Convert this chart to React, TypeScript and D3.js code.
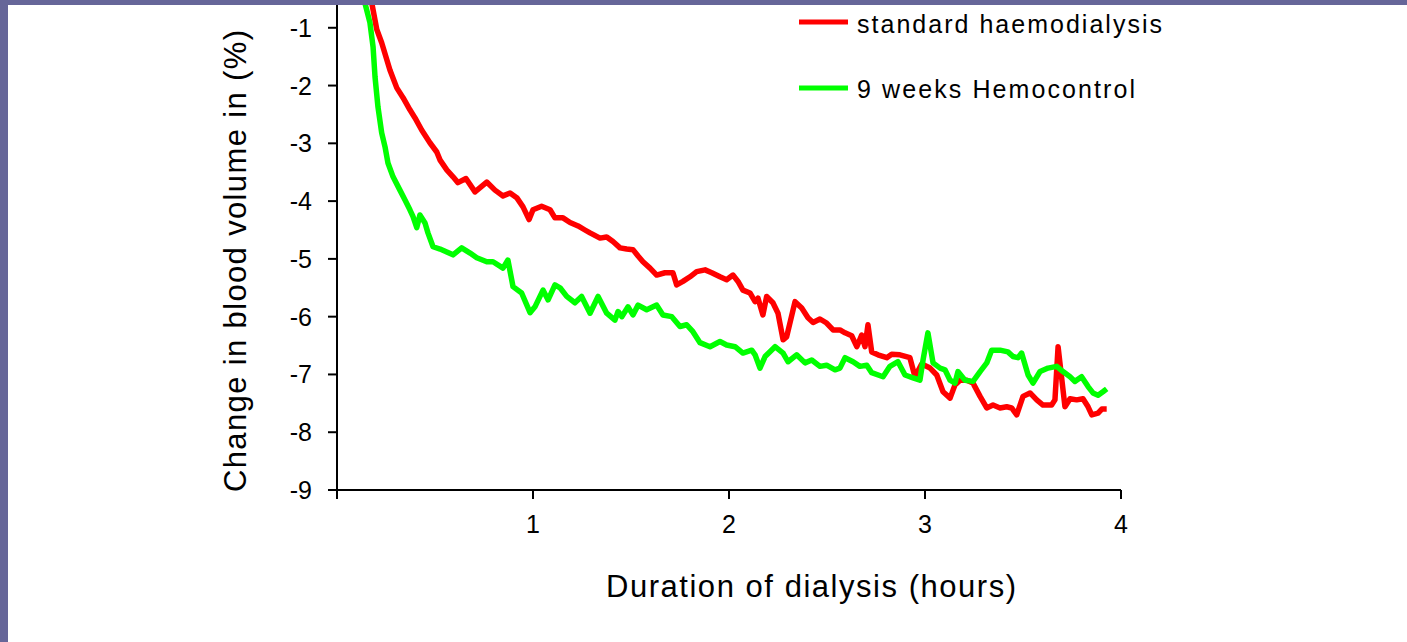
import React from "react";
import * as d3 from "d3";

// Duration of dialysis (hours)
const standardHours = [0.143, 0.179, 0.203, 0.228, 0.270, 0.305, 0.337, 0.372, 0.398, 0.432, 0.474, 0.509, 0.526, 0.560, 0.592, 0.617, 0.658, 0.704, 0.764, 0.806, 0.847, 0.883, 0.917, 0.949, 0.980, 1.000, 1.044, 1.087, 1.112, 1.153, 1.189, 1.230, 1.265, 1.291, 1.342, 1.376, 1.408, 1.444, 1.478, 1.510, 1.536, 1.561, 1.597, 1.631, 1.673, 1.714, 1.733, 1.765, 1.801, 1.835, 1.878, 1.912, 1.954, 1.988, 2.020, 2.046, 2.071, 2.107, 2.133, 2.148, 2.173, 2.192, 2.224, 2.250, 2.276, 2.294, 2.337, 2.371, 2.403, 2.429, 2.464, 2.498, 2.531, 2.566, 2.592, 2.626, 2.652, 2.677, 2.694, 2.709, 2.728, 2.760, 2.805, 2.830, 2.872, 2.923, 2.949, 2.983, 3.026, 3.060, 3.092, 3.128, 3.153, 3.179, 3.213, 3.245, 3.281, 3.315, 3.347, 3.383, 3.417, 3.442, 3.468, 3.500, 3.536, 3.570, 3.602, 3.646, 3.663, 3.679, 3.714, 3.740, 3.774, 3.806, 3.832, 3.851, 3.883, 3.902, 3.927];
// Change in blood volume (%) — standard haemodialysis
const standardValues = [0.0, -0.60, -1.03, -1.26, -1.73, -2.04, -2.21, -2.42, -2.56, -2.77, -2.99, -3.15, -3.29, -3.46, -3.58, -3.68, -3.61, -3.84, -3.67, -3.81, -3.91, -3.86, -3.94, -4.10, -4.32, -4.15, -4.09, -4.15, -4.29, -4.29, -4.37, -4.43, -4.50, -4.55, -4.64, -4.62, -4.70, -4.81, -4.83, -4.84, -4.95, -5.05, -5.16, -5.28, -5.24, -5.24, -5.45, -5.39, -5.31, -5.22, -5.19, -5.24, -5.31, -5.36, -5.28, -5.39, -5.54, -5.59, -5.74, -5.68, -5.97, -5.65, -5.76, -5.94, -6.40, -6.35, -5.74, -5.85, -6.02, -6.10, -6.04, -6.11, -6.23, -6.23, -6.28, -6.33, -6.52, -6.32, -6.52, -6.14, -6.61, -6.66, -6.71, -6.65, -6.66, -6.71, -7.04, -6.82, -6.89, -7.01, -7.30, -7.41, -7.18, -7.10, -7.10, -7.15, -7.38, -7.58, -7.53, -7.58, -7.56, -7.58, -7.70, -7.38, -7.32, -7.44, -7.53, -7.53, -7.44, -6.52, -7.56, -7.42, -7.44, -7.42, -7.56, -7.70, -7.67, -7.60, -7.60];

const hemoHours = [0.097, 0.143, 0.168, 0.184, 0.194, 0.209, 0.228, 0.245, 0.260, 0.286, 0.321, 0.347, 0.372, 0.388, 0.407, 0.423, 0.449, 0.464, 0.490, 0.526, 0.560, 0.592, 0.636, 0.679, 0.713, 0.764, 0.796, 0.847, 0.872, 0.898, 0.942, 0.985, 1.010, 1.051, 1.077, 1.112, 1.138, 1.172, 1.214, 1.248, 1.291, 1.332, 1.376, 1.418, 1.434, 1.453, 1.485, 1.510, 1.536, 1.580, 1.631, 1.663, 1.708, 1.750, 1.784, 1.816, 1.852, 1.903, 1.954, 1.988, 2.031, 2.071, 2.116, 2.133, 2.158, 2.184, 2.235, 2.276, 2.301, 2.345, 2.388, 2.422, 2.464, 2.498, 2.541, 2.566, 2.592, 2.633, 2.668, 2.703, 2.728, 2.786, 2.821, 2.862, 2.898, 2.939, 2.974, 2.990, 3.015, 3.041, 3.077, 3.102, 3.128, 3.153, 3.168, 3.204, 3.245, 3.281, 3.315, 3.340, 3.383, 3.423, 3.449, 3.474, 3.493, 3.526, 3.551, 3.587, 3.628, 3.672, 3.704, 3.740, 3.765, 3.799, 3.832, 3.857, 3.883, 3.908, 3.927];
// Change in blood volume (%) — 9 weeks Hemocontrol
const hemoValues = [0.0, -0.58, -0.91, -1.33, -1.85, -2.37, -2.82, -3.06, -3.34, -3.58, -3.81, -3.98, -4.15, -4.27, -4.46, -4.24, -4.38, -4.55, -4.79, -4.83, -4.88, -4.93, -4.81, -4.90, -4.98, -5.05, -5.05, -5.16, -5.02, -5.48, -5.59, -5.93, -5.83, -5.54, -5.71, -5.45, -5.50, -5.65, -5.76, -5.65, -5.94, -5.65, -5.94, -6.06, -5.91, -6.00, -5.83, -5.97, -5.80, -5.88, -5.80, -5.97, -6.00, -6.17, -6.14, -6.26, -6.45, -6.52, -6.43, -6.49, -6.52, -6.63, -6.58, -6.66, -6.89, -6.69, -6.52, -6.63, -6.78, -6.66, -6.80, -6.75, -6.86, -6.84, -6.92, -6.89, -6.71, -6.78, -6.86, -6.84, -6.97, -7.04, -6.86, -6.78, -7.01, -7.06, -7.10, -6.75, -6.28, -6.80, -6.89, -6.92, -7.10, -7.15, -6.95, -7.10, -7.12, -6.95, -6.80, -6.58, -6.58, -6.61, -6.69, -6.71, -6.63, -7.01, -7.15, -6.95, -6.89, -6.86, -6.95, -7.04, -7.12, -7.04, -7.21, -7.32, -7.36, -7.30, -7.25];

const yTicks = [-9, -8, -7, -6, -5, -4, -3, -2, -1];
const xTicks = [0, 1, 2, 3, 4];
const xTickLabels = ["", "1", "2", "3", "4"];
const seriesNames = ["standard haemodialysis", "9 weeks Hemocontrol"];
const seriesColors = ["#ff0000", "#00ff00"];

const W = 1407;
const H = 642;
const FONT = "'Liberation Sans', Arial, sans-serif";

export default function App() {
  const x = d3.scaleLinear().domain([0, 4]).range([337, 1121]);
  const y = d3.scaleLinear().domain([-9, 0]).range([490, -30]);

  const line = d3
    .line<[number, number]>()
    .x((d) => x(d[0]))
    .y((d) => y(d[1]))
    .curve(d3.curveLinear);

  const series = [
    standardHours.map((h, i) => [h, standardValues[i]] as [number, number]),
    hemoHours.map((h, i) => [h, hemoValues[i]] as [number, number]),
  ];

  const x0 = x(0);
  const y0 = y(-9);

  return (
    <svg
      width={W}
      height={H}
      style={{ position: "absolute", left: 0, top: 0, background: "#fff" }}
      fontFamily={FONT}
    >
      <rect x={0} y={0} width={W} height={H} fill="#ffffff" />

      {/* axes */}
      <line x1={x0} x2={x0} y1={0} y2={y0 + 9} stroke="#000" strokeWidth={2} />
      <line x1={x0 - 9} x2={x(4)} y1={y0} y2={y0} stroke="#000" strokeWidth={2} />
      {yTicks.map((t) => (
        <g key={"y" + t}>
          <line x1={x0 - 9} x2={x0} y1={y(t)} y2={y(t)} stroke="#000" strokeWidth={2} />
          <text x={x0 - 25} y={y(t) + 9} fontSize={25} textAnchor="end" fill="#000">
            {String(t)}
          </text>
        </g>
      ))}
      {xTicks.map((t, i) => (
        <g key={"x" + t}>
          <line x1={x(t)} x2={x(t)} y1={y0} y2={y0 + 9} stroke="#000" strokeWidth={2} />
          <text x={x(t)} y={533} fontSize={25} textAnchor="middle" fill="#000">
            {xTickLabels[i]}
          </text>
        </g>
      ))}

      {/* series lines */}
      {series.map((s, i) => (
        <path
          key={"s" + i}
          d={line(s) || ""}
          fill="none"
          stroke={seriesColors[i]}
          strokeWidth={5.5}
          strokeLinejoin="round"
        />
      ))}

      {/* axis titles */}
      <text x={811} y={597} fontSize={31} textAnchor="middle" textLength={410} lengthAdjust="spacing" fill="#000">
        Duration of dialysis (hours)
      </text>
      <text
        transform="translate(246,261) rotate(-90)"
        fontSize={31}
        textAnchor="middle"
        textLength={462}
        lengthAdjust="spacing"
        fill="#000"
      >
        Change in blood volume in (%)
      </text>

      {/* legend */}
      {seriesNames.map((n, i) => (
        <g key={"l" + i}>
          <line x1={799} x2={848} y1={22 + i * 66} y2={22 + i * 66} stroke={seriesColors[i]} strokeWidth={5} />
          <text
            x={857}
            y={33 + i * 65}
            fontSize={25}
            textLength={i === 0 ? 305 : 278}
            lengthAdjust="spacing"
            fill="#000"
          >
            {n}
          </text>
        </g>
      ))}

      {/* slide frame */}
      <rect x={0} y={0} width={W} height={5} fill="#666699" />
      <rect x={0} y={0} width={8} height={H} fill="#666699" />
    </svg>
  );
}
